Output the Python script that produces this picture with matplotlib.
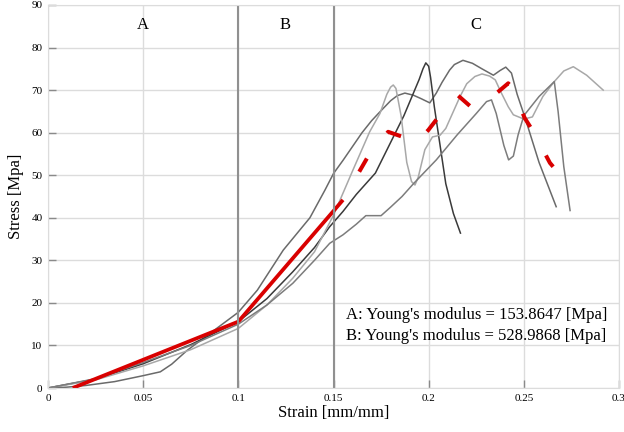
import matplotlib
matplotlib.use("Agg")
import matplotlib.pyplot as plt

plt.rcParams['font.family'] = ['Liberation Serif', 'DejaVu Serif']
plt.rcParams['lines.scale_dashes'] = False

# specimen curves (strain, stress)
s1_x = [0, 0.01, 0.02, 0.035, 0.05, 0.059, 0.065, 0.073, 0.085, 0.1, 0.11, 0.1236, 0.1376,
        0.1455, 0.15, 0.155, 0.165, 0.17, 0.1744, 0.18, 0.1835, 0.1875, 0.192, 0.196, 0.2006,
        0.204, 0.207, 0.211, 0.2135, 0.218, 0.223, 0.228, 0.234, 0.2375, 0.2405, 0.2435,
        0.2465, 0.2505, 0.258, 0.267]
s1_y = [0, 0.2, 0.6, 1.5, 2.9, 3.8, 5.6, 8.8, 12.8, 17.8, 23, 32.4, 40,
        46.5, 50.4, 53.5, 60, 62.8, 64.9, 67.5, 68.7, 69.3, 68.8, 68, 67,
        69.3, 71.8, 74.7, 76, 77, 76.3, 75, 73.5, 74.6, 75.4, 74,
        69, 63.7, 53, 42.6]

s2_x = [0, 0.025, 0.05, 0.075, 0.1, 0.115, 0.1286, 0.14, 0.148, 0.155, 0.162, 0.168, 0.172,
        0.177, 0.187, 0.195, 0.197, 0.1985, 0.2, 0.201, 0.203, 0.205, 0.209, 0.213, 0.2167]
s2_y = [0, 2.1, 5.7, 10.2, 15.6, 21, 27.3, 33, 37.9, 41.5, 45.5, 48.5, 50.5,
        55, 64, 72.5, 75, 76.4, 75.6, 73, 66, 60, 48, 41, 36.4]

s3_x = [0, 0.025, 0.05, 0.075, 0.1, 0.115, 0.1286, 0.14, 0.15, 0.16, 0.169, 0.1744, 0.178,
        0.18, 0.1814, 0.1828, 0.1855, 0.1885, 0.191, 0.1928, 0.1945, 0.198, 0.202, 0.206,
        0.209, 0.213, 0.2165, 0.22, 0.2243, 0.228, 0.232, 0.235, 0.238, 0.2418, 0.2445,
        0.25, 0.2545, 0.26, 0.266, 0.271, 0.276, 0.283, 0.2917]
s3_y = [0, 1.9, 5.2, 9.0, 14.0, 19.5, 25.8, 32, 40.6, 51, 60.2, 64.5, 69,
        70.7, 71.2, 70.4, 64, 53, 48.5, 47.7, 49.5, 56, 59, 59.4,
        61, 65, 68.5, 71.5, 73.2, 73.8, 73.3, 72.4, 69.5, 66.1, 64.2,
        63.2, 63.7, 68.5, 72, 74.5, 75.5, 73.5, 70]

s4_x = [0, 0.025, 0.05, 0.075, 0.1, 0.115, 0.1286, 0.14, 0.148, 0.155, 0.162, 0.167, 0.175,
        0.18, 0.186, 0.192, 0.204, 0.215, 0.225, 0.2304, 0.233, 0.2355, 0.2395, 0.242,
        0.2445, 0.247, 0.25, 0.258, 0.266, 0.268, 0.271, 0.2743]
s4_y = [0, 2.2, 6.0, 10.0, 15.0, 19.5, 24.6, 30, 34, 36, 38.5, 40.5, 40.5,
        42.5, 45, 48, 53.6, 59.5, 64.5, 67.3, 67.7, 64.5, 57, 53.6,
        54.5, 59.5, 64, 68.5, 72, 65, 52, 41.7]

# fitted segments and mean curve (red)
fitA_x = [0.013, 0.1]
fitA_y = [0, 15.6]
fitB_x = [0.1, 0.155]
fitB_y = [15.6, 44.2]
mean_x = [0.155, 0.164, 0.168, 0.1787, 0.1858, 0.193, 0.1998, 0.205, 0.2155, 0.2216, 0.228,
          0.2365, 0.2418, 0.2435, 0.2505, 0.2549, 0.2637, 0.2654]
mean_y = [44.2, 51.2, 54.3, 60.2, 59.1, 57.5, 60.6, 63.6, 68.7, 66.3, 66.5,
          69.6, 71.6, 70.8, 63.4, 60.3, 52.9, 52.0]

bounds = [0.1, 0.15]
region_labels = ['A', 'B', 'C']
region_x = [0.05, 0.1245, 0.2248]
notes = ["A: Young's modulus = 153.8647 [Mpa]", "B: Young's modulus = 528.9868 [Mpa]"]

fig = plt.figure(figsize=(6.24, 4.32), dpi=100)
ax = fig.add_axes([48 / 624, 1 - 388 / 432, 571 / 624, 383 / 432])

ax.plot(s1_x, s1_y, color='#6a6a6a', lw=1.1)
ax.plot(s2_x, s2_y, color='#3a3a3a', lw=1.1)
ax.plot(s3_x, s3_y, color='#a8a8a8', lw=1.1)
ax.plot(s4_x, s4_y, color='#7c7c7c', lw=1.1)

ax.plot(fitA_x, fitA_y, color='#d90000', lw=2.7, solid_capstyle='butt')
ax.plot(fitB_x, fitB_y, color='#d90000', lw=2.7, solid_capstyle='butt')
ax.plot(mean_x, mean_y, color='#d90000', lw=2.9, linestyle=(11, (11, 23.4)))

for b in bounds:
    ax.axvline(b, color='#909090', lw=1.5)

for lab, xx in zip(region_labels, region_x):
    ax.text(xx, 85.3, lab, ha='center', va='center', fontsize=12)

ax.text(0.1565, 17.2, notes[0], ha='left', va='center', fontsize=12)
ax.text(0.1565, 12.2, notes[1], ha='left', va='center', fontsize=12)

ax.set_xlim(0, 0.3)
ax.set_ylim(0, 90)
ax.set_xticks([0, 0.05, 0.1, 0.15, 0.2, 0.25, 0.3])
ax.set_xticklabels(['0', '0.05', '0.1', '0.15', '0.2', '0.25', '0.3'])
ax.set_yticks(range(0, 91, 10))
ax.tick_params(direction='in', length=6, width=1, color='#8a8a8a', labelsize=8, pad=4)
ax.grid(True, color='#dcdcdc', lw=1)
ax.set_axisbelow(True)
for sp in ax.spines.values():
    sp.set_color('#dcdcdc')

ax.set_xlabel('Strain [mm/mm]', fontsize=12, labelpad=2)
ax.set_ylabel('Stress [Mpa]', fontsize=12, labelpad=5)

fig.savefig('out.png', dpi=100)
